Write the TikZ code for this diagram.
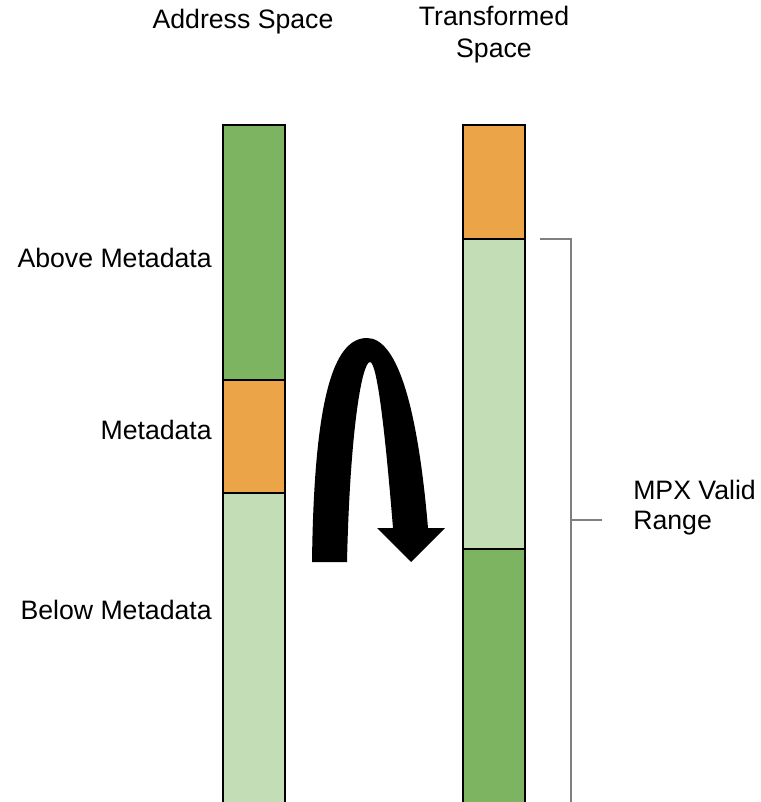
\documentclass[tikz,border=0pt]{standalone}
\usepackage{fontspec}
\setmainfont{Liberation Sans}
\definecolor{darkgreen}{RGB}{125,180,98}
\definecolor{lightgreen}{RGB}{195,221,182}
\definecolor{metaorange}{RGB}{236,164,73}
\definecolor{bracketgray}{RGB}{128,128,128}
\begin{document}
\begin{tikzpicture}[x=0.75pt,y=-0.75pt,
  lbl/.style={font=\fontsize{20}{24}\selectfont, inner sep=0pt},
  seg/.style={draw=black, line width=1.5pt},
  bracket/.style={draw=bracketgray, line width=1.5pt}]
\useasboundingbox (0,0) rectangle (760,802);

% Address space column
\path[seg, fill=darkgreen]  (223,125) rectangle (285,380);
\path[seg, fill=metaorange] (223,380) rectangle (285,493);
\path[seg, fill=lightgreen] (223,493) rectangle (285,810);

% Transformed space column
\path[seg, fill=metaorange] (463,125) rectangle (525,239);
\path[seg, fill=lightgreen] (463,239) rectangle (525,549);
\path[seg, fill=darkgreen]  (463,549) rectangle (525,810);

% Column titles
\node[lbl] (addr) at (243,22) {Address Space};
\node[lbl, align=center, font=\fontsize{20}{24}\selectfont] (trans) at (494,35) {Transformed\\Space};

% Region labels
\node[lbl, anchor=east] (above) at (212,258) {Above Metadata};
\node[lbl, anchor=east] (meta)  at (212,430) {Metadata};
\node[lbl, anchor=east] (below) at (212,610) {Below Metadata};

% Valid range bracket
\coordinate (btop) at (540,239);
\coordinate (bcorner) at (571,239);
\coordinate (bbot) at (571,805);
\coordinate (bmid) at (571,520);
\coordinate (btick) at (602,520);
\draw[bracket] (btop) -- (bcorner) -- (bbot);
\draw[bracket] (bmid) -- (btick);
\node[lbl, anchor=west, align=left, font=\fontsize{20}{22.5}\selectfont] (mpx) at (633,508) {MPX Valid\\Range};

% U-turn arrow
\fill[black] (312,562) .. controls (314,400) and (333,338) .. (367,338)
  .. controls (398,338) and (418,410) .. (428,528)
  -- (445,528) -- (411,562) -- (377,528) -- (393,528)
  .. controls (385,430) and (377,362) .. (370,362)
  .. controls (362,362) and (350,430) .. (347,562) -- cycle;
\end{tikzpicture}
\end{document}
